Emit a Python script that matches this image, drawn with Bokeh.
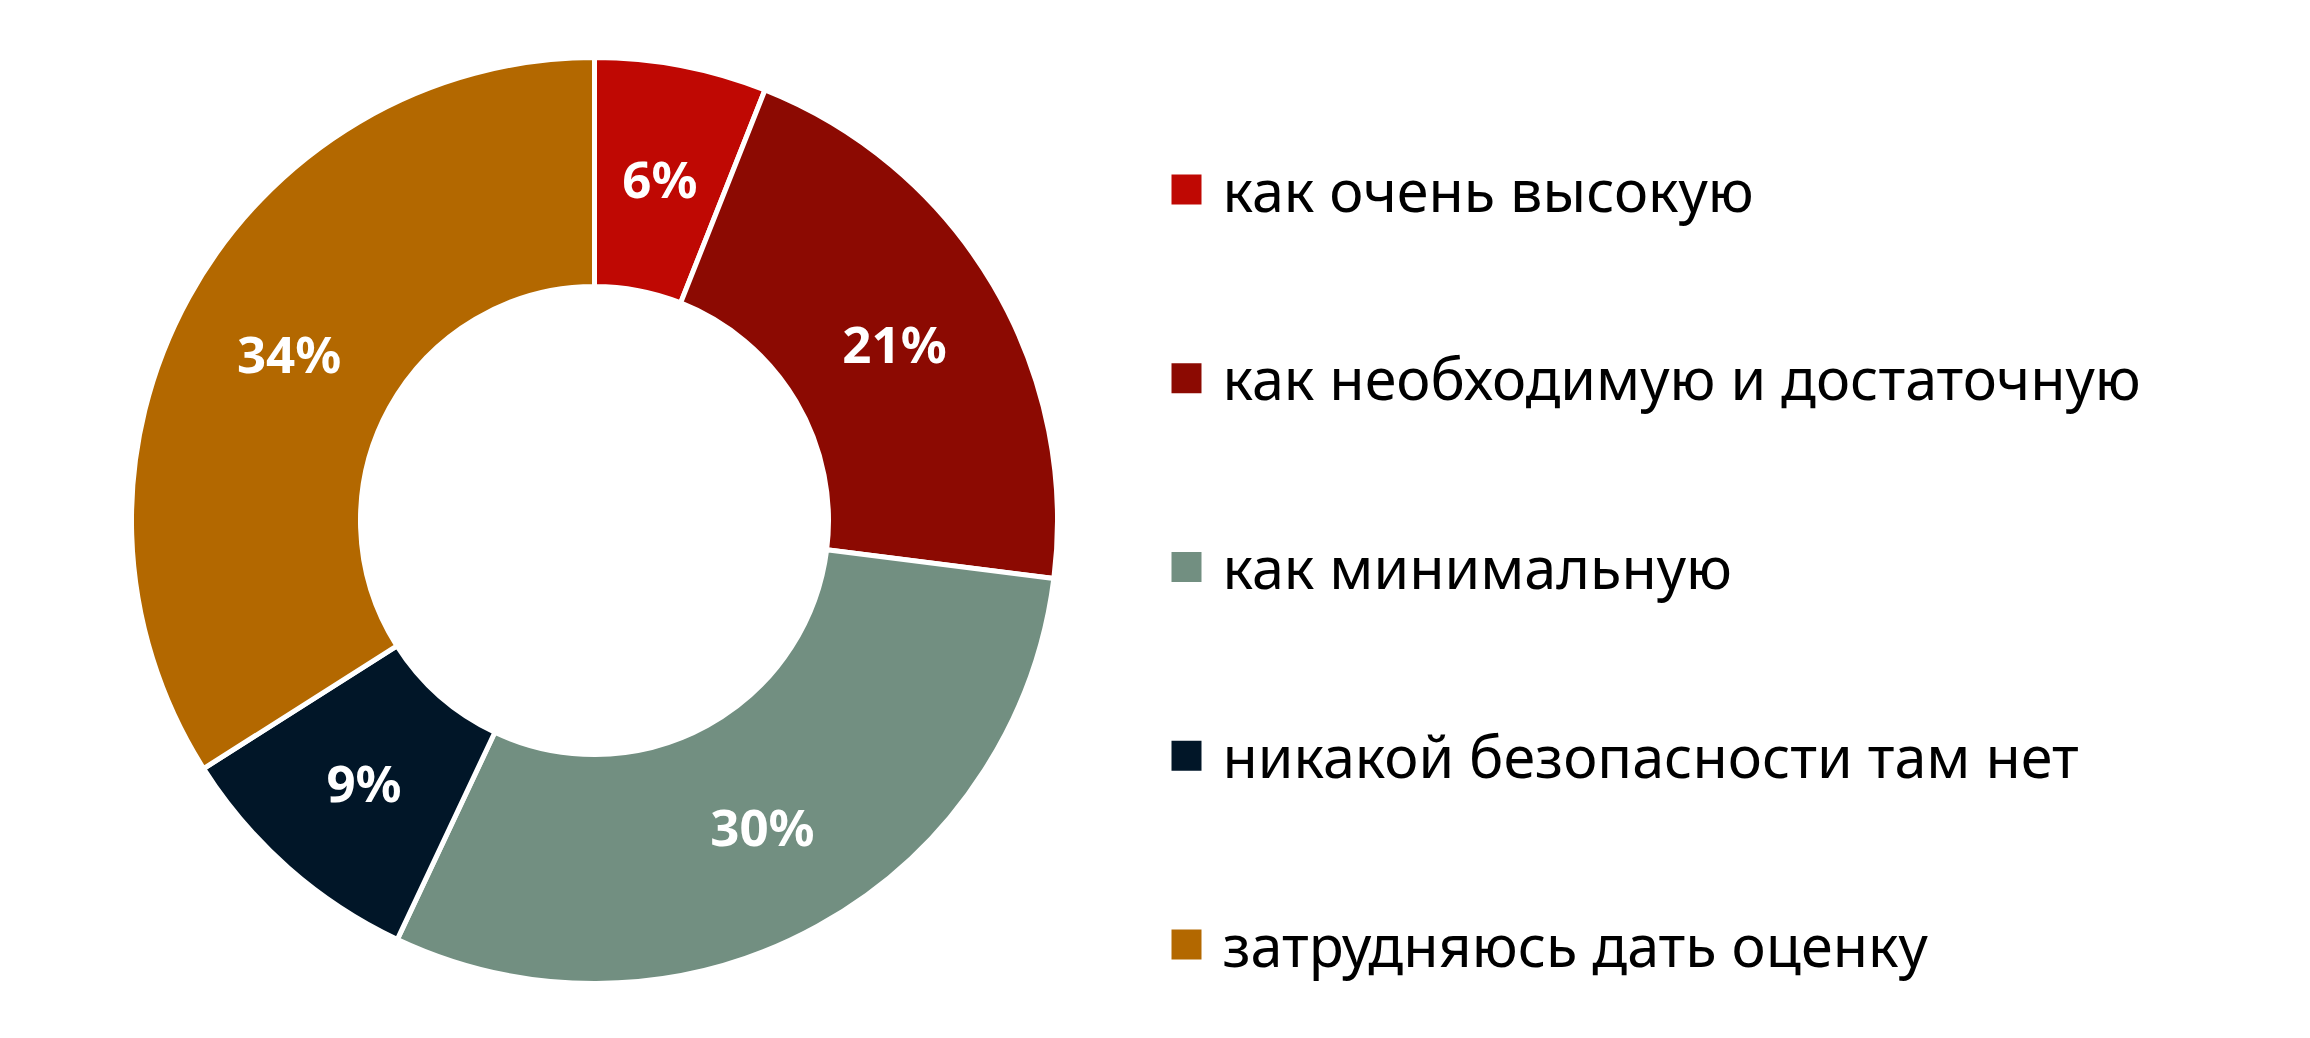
import numpy as np
from bokeh.plotting import figure
from bokeh.models import Range1d, ColumnDataSource
from bokeh.core.properties import value
from bokeh.embed import file_html
from bokeh.resources import INLINE

categories = ["как очень высокую", "как необходимую и достаточную", "как минимальную",
              "никакой безопасности там нет", "затрудняюсь дать оценку"]
shares = [6, 21, 30, 9, 34]
labels = ["6%", "21%", "30%", "9%", "34%"]
colors = ["#BF0803", "#8C0A02", "#728F81", "#011628", "#B36800"]

W, H = 2294, 1022
p = figure(width=W, height=H, output_backend="svg", toolbar_location=None,
           x_range=Range1d(0, W), y_range=Range1d(0, H), min_border=0)
p.axis.visible = False
p.grid.visible = False
p.outline_line_color = None
p.background_fill_color = "white"

cx, cy = 594, 502
r_out, r_in = 463, 234

vals = np.array(shares, dtype=float)
frac = vals / vals.sum()
cum = np.concatenate([[0], np.cumsum(frac)])
start = np.pi / 2 - cum[:-1] * 2 * np.pi
end = np.pi / 2 - cum[1:] * 2 * np.pi
mid = (start + end) / 2
r_mid = (r_out + r_in) / 2

src = ColumnDataSource(dict(start=start, end=end, color=colors,
                            lx=cx + r_mid * np.cos(mid), ly=cy + r_mid * np.sin(mid),
                            label=labels))
p.annular_wedge(x=cx, y=cy, inner_radius=r_in, outer_radius=r_out,
                start_angle="start", end_angle="end", direction="clock",
                fill_color="color", line_color="white", line_width=5, source=src)
p.text(x="lx", y="ly", text="label", source=src, text_color="white",
       text_font=value("Noto Sans"), text_font_style="bold", text_font_size="51px",
       text_align="center", text_baseline="middle")

# legend
n = len(categories)
row_top = H - 189
step = 188.75
ly = np.array([row_top - i * step for i in range(n)])
leg = ColumnDataSource(dict(y=ly, color=colors, cat=categories))
p.rect(x=1186, y="y", width=30, height=30, fill_color="color", line_color=None, source=leg)
p.text(x=1222, y="y", text="cat", source=leg, text_color="black",
       text_font=value("Noto Sans"), text_font_size="57.5px",
       text_align="left", text_baseline="middle")

open("out.html", "w").write(file_html(p, INLINE))
